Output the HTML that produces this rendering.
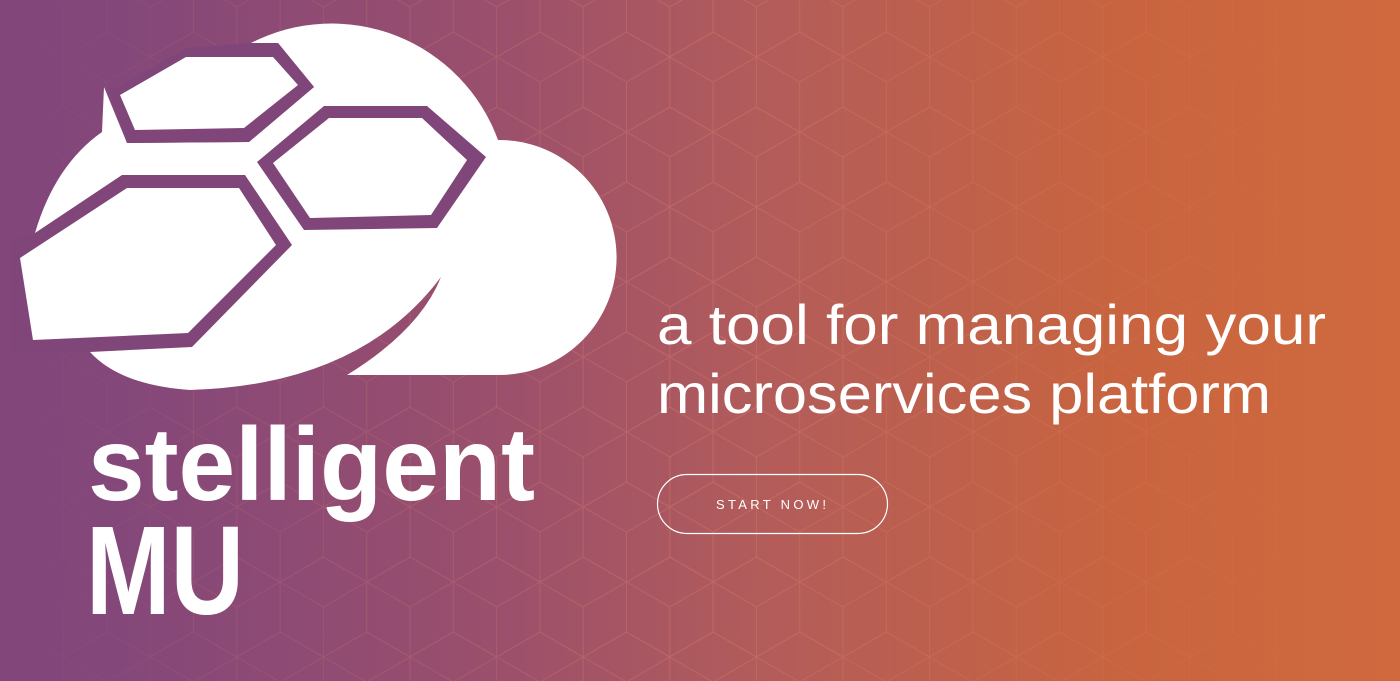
<!DOCTYPE html>
<html><head><meta charset="utf-8">
<style>
html,body{margin:0;padding:0;}
body{width:1400px;height:681px;overflow:hidden;position:relative;
background:linear-gradient(90deg,#82467A 0%,#83477A 8%,#9A4F6C 35%,#B35C5A 55%,#C8643F 80%,#D0693E 100%);}
svg{position:absolute;left:0;top:0;}
</style></head><body>
<svg width="1400" height="681" viewBox="0 0 1400 681" xmlns="http://www.w3.org/2000/svg">
<defs>
<g id="cube" fill="none" stroke="#F09070" stroke-width="1">
<path d="M0,-50 L43.3,-25 L43.3,25 L0,50 L-43.3,25 L-43.3,-25 Z M0,0 L-43.3,-25 M0,0 L43.3,-25 M0,0 L0,50"/>
</g>
<pattern id="iso" width="86.6" height="150" patternUnits="userSpaceOnUse" x="-23" y="7">
<use href="#cube" x="0" y="0"/><use href="#cube" x="86.6" y="0"/>
<use href="#cube" x="43.3" y="75"/><use href="#cube" x="0" y="150"/>
<use href="#cube" x="86.6" y="150"/><use href="#cube" x="43.3" y="-75"/>
</pattern>
<linearGradient id="fade" x1="0" x2="1" y1="0" y2="0">
<stop offset="0" stop-color="#fff" stop-opacity="0"/>
<stop offset="0.15" stop-color="#fff" stop-opacity="0.4"/>
<stop offset="0.5" stop-color="#fff" stop-opacity="0.9"/>
<stop offset="0.8" stop-color="#fff" stop-opacity="0.4"/>
<stop offset="1" stop-color="#fff" stop-opacity="0"/>
</linearGradient>
<mask id="m"><rect width="1400" height="681" fill="url(#fade)"/></mask>
</defs>
<rect width="1400" height="681" fill="url(#iso)" opacity="0.3" mask="url(#m)"/>

<path fill="#fff" d="M104,87 L127,143 L249,142 L314,87 L278,43 L251,43 A177,177 0 0 1 498,140 A117,117 0 1 1 500,375 L347,375 Q420,330 441,277 Q360,385 190,390 Q120,385 90,352 L35,233 Q55,165 102,132 Z"/>
<g fill="#80467A">
<polygon points="251,43 278,43 314,87 249,142 127,143 110,92 186,48"/>
<polygon points="324,106 427,106 486,157 437,228 304,230 257,162"/>
<polygon points="122,175 245,175 292,245 192,347 90,352 10,352 10,240 35,233"/>
</g>
<g fill="#fff">
<polygon points="186,57 273,57 298,85 244,128 135,130 120,95"/>
<polygon points="329,118 422,118 467,160 431,215 310,218 273,163"/>
<polygon points="127,188 239,188 276,245 188,333 33,340 20,258"/>
</g>

<text x="88" y="500" fill="#fff" font-family="Liberation Sans, sans-serif" font-size="104" font-weight="bold" textLength="447" lengthAdjust="spacingAndGlyphs">stelligent</text>
<text x="86" y="614" fill="#fff" font-family="Liberation Sans, sans-serif" font-size="126" font-weight="bold" textLength="158" lengthAdjust="spacingAndGlyphs">MU</text>

<text x="657" y="344" fill="#fff" font-family="Liberation Sans, sans-serif" font-size="56" textLength="669" lengthAdjust="spacingAndGlyphs">a tool for managing your</text>
<text x="657" y="413" fill="#fff" font-family="Liberation Sans, sans-serif" font-size="56" textLength="614" lengthAdjust="spacingAndGlyphs">microservices platform</text>

<rect x="657.5" y="474.5" width="230" height="59" rx="29.5" fill="none" stroke="#fff" stroke-width="1.2"/>
<text x="716" y="509" fill="#fff" font-family="Liberation Sans, sans-serif" font-size="13" textLength="110" lengthAdjust="spacing">START NOW!</text>
</svg>
</body></html>
